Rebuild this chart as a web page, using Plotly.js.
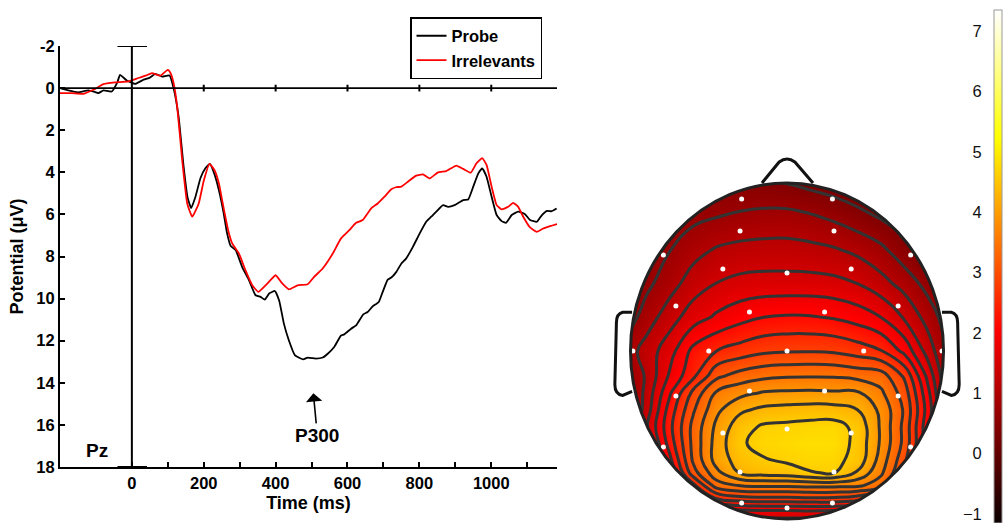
<!DOCTYPE html>
<html><head><meta charset="utf-8">
<script src="https://cdn.plot.ly/plotly-3.0.1.min.js"></script>
<style>html,body{margin:0;padding:0;background:#fff}#chart{width:1003px;height:523px}</style>
</head><body><div id="chart"></div>
<script>
// ---- ERP waveforms at Pz (time in ms, potential in µV; axis reversed) ----
const probeTime = [-200,-177,-150,-121,-100,-93,-79,-56,-40,-33,-14,9,33,50,65,84,105,116,130,144,155,165,177,191,205,217,230,242,255,265,275,289,307,326,344,358,370,382,398,410,423,437,454,477,489,512,531,545,563,582,591,610,624,644,656,670,687,698,712,722,736,750,763,782,801,819,833,847,866,880,898,922,936,950,964,975,987,1001,1015,1029,1041,1057,1075,1094,1108,1127,1141,1155,1168,1182];
const probeUV = [0,0.11,0.2,0.11,0.2,0.24,0.11,0.16,-0.3,-0.63,-0.36,-0.2,-0.4,-0.5,-0.68,-0.55,-0.6,0,1.35,3.73,5.2,5.7,5.16,4.27,3.8,3.6,4.1,4.84,5.9,6.9,7.5,7.7,8.5,9.13,9.84,9.92,10.05,9.76,9.64,10.1,11.19,11.99,12.7,12.89,12.8,12.85,12.8,12.62,12.3,11.75,11.7,11.43,11.27,10.75,10.64,10.37,10.16,9.68,9.1,9.0,8.73,8.33,8.1,7.54,6.9,6.35,6.11,5.87,5.56,5.64,5.56,5.32,5.29,4.68,4.05,3.81,4.21,5.16,6.03,6.32,6.4,6.03,5.87,5.99,6.27,6.35,6.03,5.83,5.85,5.72];
const irrTime = [-200,-168,-135,-107,-79,-47,-9,18,40,56,79,100,108,116,126,140,154,168,186,200,216,230,242,252,261,270,279,298,316,335,352,372,387,400,419,437,461,489,507,531,559,582,605,624,642,666,684,703,722,735,750,768,791,810,829,852,875,903,922,943,959,975,987,1001,1015,1029,1047,1061,1075,1089,1108,1127,1145,1164,1184];
const irrUV = [0.24,0.24,0.27,0.08,-0.19,-0.27,-0.32,-0.48,-0.6,-0.71,-0.59,-0.87,-0.7,-0.24,0.87,3.41,5.48,6.11,5.48,4.4,3.6,3.9,4.52,5.4,6.19,6.9,7.38,7.86,8.65,9.37,9.68,9.37,9.1,8.89,9.29,9.56,9.37,9.32,8.97,8.57,7.86,7.14,6.75,6.4,6.27,5.71,5.48,5.16,4.81,4.71,4.68,4.45,4.16,4.1,4.29,4.0,3.94,3.68,3.84,4.02,3.57,3.33,3.65,4.68,5.56,5.76,5.64,5.45,5.64,6.11,6.62,6.83,6.67,6.56,6.46];
const timeTicks = [0,100,200,300,400,500,600,700,800,900,1000,1100];
const timeTickText = ['0','','200','','400','','600','','800','','1000',''];
const zeroLineTicks = [200,400,600,800,1000];
const uvTicks = [-2,0,2,4,6,8,10,12,14,16,18];
const uvTickText = ['-2','0','2','4','6','8','10','12','14','16','18'];

// ---- Scalp map (head radius = 1), values in µV ----
const topoU = [-1.05,-0.9,-0.75,-0.6,-0.45,-0.3,-0.15,0,0.15,0.3,0.45,0.6,0.75,0.9,1.05];
const topoV = [-1.05,-0.95,-0.875,-0.8,-0.725,-0.65,-0.55,-0.45,-0.35,-0.25,-0.15,0,0.2,0.4,0.6,0.8,1.05];
const topoZ = [
  [0.5,0.5,0.6,0.8,0.9,1.0,1.0,1.0,1.0,1.0,0.95,0.85,0.7,0.55,0.5],
  [0.5,0.55,0.9,1.3,1.6,1.75,1.8,1.8,1.82,1.8,1.7,1.4,1.0,0.7,0.5],
  [0.5,0.6,1.2,1.9,2.55,2.75,2.8,2.8,2.83,2.82,2.7,2.2,1.5,0.9,0.5],
  [0.5,0.7,1.5,2.4,3.38,3.58,3.62,3.62,3.66,3.65,3.63,3.35,2.3,1.1,0.5],
  [0.5,0.9,1.8,3.05,3.8,4.27,4.4,4.45,4.58,4.63,4.2,3.62,2.8,1.3,0.4],
  [0.5,1.0,2.05,3.25,4.05,4.4,4.57,4.65,4.72,4.7,4.48,3.75,2.95,1.7,0.6],
  [0.5,1.2,2.3,3.3,4.05,4.55,4.72,4.76,4.82,4.8,4.5,3.85,3.1,1.9,0.7],
  [0.4,1.4,2.4,3.3,3.98,4.45,4.65,4.68,4.72,4.74,4.5,3.85,3.1,1.9,0.7],
  [0.4,1.25,2.3,3.15,3.82,4.18,4.33,4.37,4.4,4.38,4.25,3.82,3.15,2.0,0.7],
  [0.5,1.2,2.1,2.95,3.6,3.8,3.93,3.96,3.97,3.95,3.95,3.62,3.03,1.9,0.6],
  [0.6,1.15,1.85,2.42,3.12,3.35,3.47,3.52,3.53,3.52,3.45,3.38,2.8,1.7,0.6],
  [0.84,1.25,1.65,2.25,2.5,2.65,2.78,2.82,2.83,2.8,2.68,2.52,2.05,1.3,0.6],
  [0.49,0.91,1.3,1.63,1.86,2.03,2.15,2.19,2.18,2.12,2.0,1.8,1.41,0.96,0.49],
  [0.4,0.66,0.95,1.28,1.46,1.55,1.58,1.58,1.58,1.55,1.45,1.23,0.97,0.62,0.23],
  [0.53,0.61,0.74,0.97,1.14,1.21,1.23,1.23,1.2,1.14,1.02,0.84,0.53,0.24,-0.04],
  [0.58,0.6,0.63,0.66,0.74,0.8,0.85,0.86,0.79,0.68,0.53,0.36,0.2,0.07,-0.04],
  [0.49,0.49,0.49,0.49,0.45,0.4,0.34,0.27,0.17,0.08,-0.03,-0.13,-0.19,-0.25,-0.3]
];
const contourLevels = {start: 0.4, end: 4.61, size: 0.35};
const elecU = [-0.29,0.29,-0.3,0.3,-0.79,0.79,-0.41,0,0.41,-0.71,-0.24,0.24,0.71,-0.985,-0.5,0,0.49,0.99,-0.71,-0.24,0.24,0.71,-0.41,0,0.41,-0.79,0.79,-0.3,0.3,-0.29,0,0.29];
const elecV = [0.905,0.905,0.714,0.714,0.571,0.571,0.488,0.464,0.488,0.268,0.232,0.232,0.268,0,0,0,0,0,-0.268,-0.238,-0.238,-0.268,-0.488,-0.464,-0.488,-0.571,-0.571,-0.72,-0.72,-0.905,-0.935,-0.905];
const cbTicks = [-1,0,1,2,3,4,5,6,7];
const cbTickText = ['\u22121','0','1','2','3','4','5','6','7'];
const cbMin = -1.15, cbMax = 7.35;

const FONT = 'Liberation Sans, Arial, Helvetica, sans-serif';
const W = 1003, H = 523;
const px = v => v / W, py = v => 1 - v / H;
const hot = [[0, 'rgb(10,0,0)'], [0.375, 'rgb(255,0,0)'], [0.75, 'rgb(255,255,0)'], [1, 'rgb(255,255,255)']];

const traces = [
  {x: probeTime, y: probeUV, name: 'Probe', type: 'scatter', mode: 'lines',
   line: {color: '#000000', width: 1.8, shape: 'spline', smoothing: 0.4}, xaxis: 'x', yaxis: 'y', hoverinfo: 'skip'},
  {x: irrTime, y: irrUV, name: 'Irrelevants', type: 'scatter', mode: 'lines',
   line: {color: '#ff0000', width: 1.8, shape: 'spline', smoothing: 0.4}, xaxis: 'x', yaxis: 'y', hoverinfo: 'skip'},
  {type: 'heatmap', x: topoU, y: topoV, z: topoZ, xaxis: 'x2', yaxis: 'y2', zsmooth: 'best', showlegend: false,
   zmin: cbMin, zmax: cbMax, zauto: false, colorscale: hot, showscale: true,
   colorbar: {x: px(994), xanchor: 'left', xpad: 0, y: 0, yanchor: 'bottom', ypad: 0,
     len: 513 / H, lenmode: 'fraction', thickness: 8, outlinewidth: 1, outlinecolor: '#9a9a9a',
     showticklabels: false, ticks: ''},
   hoverinfo: 'skip'},
  {type: 'contour', x: topoU, y: topoV, z: topoZ, xaxis: 'x2', yaxis: 'y2', showlegend: false, showscale: false,
   autocontour: false, contours: Object.assign({coloring: 'none'}, contourLevels),
   line: {color: '#333333', width: 3, smoothing: 1.3}, hoverinfo: 'skip'},
  {x: elecU, y: elecV, type: 'scatter', mode: 'markers', xaxis: 'x2', yaxis: 'y2', showlegend: false,
   marker: {color: '#ffffff', size: 5}, hoverinfo: 'skip'},
  {x: [], y: [], type: 'scatter', mode: 'markers', xaxis: 'x3', yaxis: 'y3', showlegend: false, hoverinfo: 'skip'}
];

const k = 0.5523;
const circlePath = `M 1,0 C 1,${k} ${k},1 0,1 C ${-k},1 -1,${k} -1,0 C -1,${-k} ${-k},-1 0,-1 C ${k},-1 1,${-k} 1,0 Z`;
const shapes = [
  {type: 'line', xref: 'x', yref: 'y', x0: -200, x1: 1183, y0: 0, y1: 0, line: {color: '#000', width: 1.8}},
  {type: 'line', xref: 'x', yref: 'y', x0: 0, x1: 0, y0: -2, y1: 18, line: {color: '#000', width: 2}},
  {type: 'line', xref: 'x', yref: 'y', x0: -40, x1: 42, y0: -2, y1: -2, line: {color: '#000', width: 2}},
  {type: 'line', xref: 'x', yref: 'y', x0: -40, x1: 42, y0: 18, y1: 18, line: {color: '#000', width: 2}},
  ...zeroLineTicks.map(t => ({type: 'line', xref: 'x', yref: 'y', x0: t, x1: t, y0: -0.16, y1: 0.16, line: {color: '#000', width: 2}})),
  {type: 'path', xref: 'x2', yref: 'y2', layer: 'above', fillrule: 'evenodd', fillcolor: '#ffffff', line: {width: 0},
   path: 'M -1.6,-1.6 L 1.6,-1.6 L 1.6,1.6 L -1.6,1.6 Z ' + circlePath},
  {type: 'circle', xref: 'x2', yref: 'y2', x0: -1, x1: 1, y0: -1, y1: 1, line: {color: '#222', width: 3}},
  {type: 'path', xref: 'x2', yref: 'y2', line: {color: '#111', width: 3},
   path: 'M -0.16,1.0 L -0.05,1.125 Q 0,1.16 0.05,1.125 L 0.166,1.0'},
  {type: 'path', xref: 'x2', yref: 'y2', line: {color: '#111', width: 3},
   path: 'M -0.99,0.23 L -1.05,0.23 Q -1.09,0.22 -1.09,0.17 L -1.10,-0.2 Q -1.10,-0.26 -1.05,-0.265 L -0.99,-0.24'},
  {type: 'path', xref: 'x2', yref: 'y2', line: {color: '#111', width: 3},
   path: 'M 0.99,0.23 L 1.05,0.23 Q 1.09,0.22 1.09,0.17 L 1.10,-0.2 Q 1.10,-0.26 1.05,-0.265 L 0.99,-0.24'}
];

const boldFont = (s) => ({family: FONT, size: s, color: '#000', weight: 'bold'});

const layout = {
  width: W, height: H, margin: {l: 0, r: 0, t: 0, b: 0, pad: 0, autoexpand: false},
  paper_bgcolor: '#fff', plot_bgcolor: 'rgba(0,0,0,0)',
  font: {family: FONT},
  showlegend: true,
  legend: {x: px(410), y: py(17), xanchor: 'left', yanchor: 'top', bordercolor: '#000', borderwidth: 1.5,
    bgcolor: '#fff', font: boldFont(16.5), tracegroupgap: 0},
  xaxis: {domain: [px(60), px(557)], range: [-200, 1183], anchor: 'y', showline: true, linecolor: '#000', linewidth: 2,
    ticks: 'inside', ticklen: 5, tickwidth: 2, tickcolor: '#000', tickmode: 'array', tickvals: timeTicks, ticktext: timeTickText,
    tickfont: boldFont(16.5), showgrid: false, zeroline: false, fixedrange: true,
    title: {text: 'Time (ms)', font: boldFont(18), standoff: 6}},
  yaxis: {domain: [py(467), py(46)], range: [18, -2], anchor: 'x', showline: true, linecolor: '#000', linewidth: 2,
    ticks: 'inside', ticklen: 5, tickwidth: 2, tickcolor: '#000', tickmode: 'array', tickvals: uvTicks, ticktext: uvTickText,
    tickfont: boldFont(16.5), showgrid: false, zeroline: false, fixedrange: true,
    title: {text: 'Potential (\u03bcV)', font: boldFont(18), standoff: 8}},
  xaxis2: {domain: [px(605), px(962)], range: [-1.163, 1.118], anchor: 'y2', visible: false, fixedrange: true},
  yaxis2: {domain: [py(523), py(150)], range: [-1.024, 1.196], anchor: 'x2', visible: false, fixedrange: true},
  xaxis3: {domain: [px(994), 1], range: [0, 1], anchor: 'y3', visible: false, fixedrange: true},
  yaxis3: {domain: [0, 513 / H], range: [cbMin, cbMax], anchor: 'x3', side: 'left', showline: false,
    ticks: 'outside', ticklen: 8, tickwidth: 1, tickcolor: 'rgba(0,0,0,0)', tickmode: 'array', tickvals: cbTicks, ticktext: cbTickText,
    tickfont: {family: FONT, size: 16.5, color: '#111'}, showgrid: false, zeroline: false, fixedrange: true},
  shapes: shapes,
  annotations: [
    {xref: 'x', yref: 'y', x: -97, y: 17.2, text: 'Pz', showarrow: false, font: boldFont(19)},
    {xref: 'x', yref: 'y', x: 505, y: 14.5, text: 'P300', showarrow: true, ax: 4, ay: 42, axref: 'pixel', ayref: 'pixel',
     arrowhead: 1, arrowsize: 1.7, arrowwidth: 1.6, arrowcolor: '#000', standoff: 0, font: boldFont(19)}
  ]
};

Plotly.newPlot('chart', traces, layout, {staticPlot: true, displayModeBar: false});
</script>
</body></html>
